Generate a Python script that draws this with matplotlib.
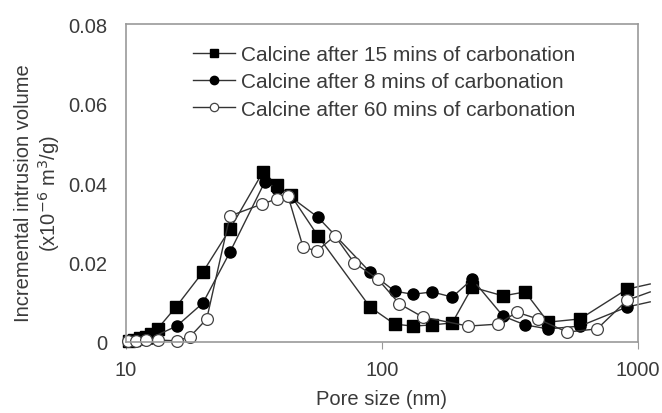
import numpy as np
import matplotlib.pyplot as plt

plt.rcParams['font.family'] = ['Liberation Sans', 'DejaVu Sans']

# pore size (nm) and incremental intrusion volume (x1e-6 m3/g)
pore_15 = [10.3, 10.8, 11.4, 12.0, 12.6, 13.3, 15.7, 20.0, 25.5, 34.3, 39.0, 44.0,
           56.2, 89.8, 112, 132, 157, 188, 225, 297, 362, 445, 593, 905, 1114]
vol_15 = [0.0003, 0.0006, 0.0009, 0.0013, 0.0020, 0.0033, 0.0088, 0.0176, 0.0284,
          0.0428, 0.0395, 0.0370, 0.0267, 0.0088, 0.0045, 0.0040, 0.0043, 0.0048,
          0.0138, 0.0116, 0.0126, 0.0050, 0.0058, 0.0133, 0.0146]

pore_8 = [10.3, 11.0, 11.7, 12.5, 15.8, 20.0, 25.5, 34.9, 39.0, 44.0, 56.2, 89.8,
          112, 132, 157, 188, 225, 297, 362, 445, 593, 905, 1114]
vol_8 = [0.0003, 0.0005, 0.0008, 0.0010, 0.0040, 0.0098, 0.0226, 0.0403, 0.0385,
         0.0365, 0.0314, 0.0176, 0.0128, 0.0120, 0.0126, 0.0113, 0.0158, 0.0065,
         0.0043, 0.0033, 0.0040, 0.0088, 0.0101]

pore_60 = [10.2, 11.0, 12.0, 13.3, 15.8, 17.8, 20.7, 25.5, 34.0, 38.9, 43.0, 49.2,
           55.7, 65.5, 77.7, 96.4, 117, 144, 217, 284, 336, 406, 528, 692, 905, 1114]
vol_60 = [0.0002, 0.0003, 0.0004, 0.0005, 0.0003, 0.0013, 0.0058, 0.0317, 0.0347,
          0.0360, 0.0367, 0.0239, 0.0229, 0.0267, 0.0200, 0.0158, 0.0096, 0.0063,
          0.0040, 0.0045, 0.0075, 0.0058, 0.0025, 0.0033, 0.0105, 0.0126]

labels = ['Calcine after 15 mins of carbonation',
          'Calcine after 8 mins of carbonation',
          'Calcine after 60 mins of carbonation']

text_col = '#3a3a3a'

fig = plt.figure(figsize=(6.62, 4.14), dpi=100)
ax = fig.add_axes([0.190, 0.1715, 0.774, 0.7681])

# last point of each series sits past 1000 nm: line only, no marker
line_kw = dict(color='#333333', lw=1.0, clip_on=False, markevery=slice(0, -1))
ax.plot(pore_15, vol_15, marker='s', ms=9, mfc='black', mec='black',
        label=labels[0], **line_kw)
ax.plot(pore_8, vol_8, marker='o', ms=8, mfc='black', mec='black',
        label=labels[1], **line_kw)
ax.plot(pore_60, vol_60, marker='o', ms=8.5, mfc='white', mec='#444444', mew=0.9,
        label=labels[2], **line_kw)

ax.set_xscale('log')
ax.set_xlim(10, 1000)
ax.set_ylim(0, 0.08)
ax.set_xticks([10, 100, 1000])
ax.set_xticklabels(['10', '100', '1000'])
ax.set_yticks([0, 0.02, 0.04, 0.06, 0.08])
ax.set_yticklabels(['0', '0.02', '0.04', '0.06', '0.08'])
ax.minorticks_off()

for s in ax.spines.values():
    s.set_color('#999999')
    s.set_linewidth(1.2)
ax.tick_params(axis='x', direction='out', length=5, color='#999999',
               labelsize=14.5, labelcolor=text_col, pad=8)
ax.tick_params(axis='y', length=0, labelsize=14.5, labelcolor=text_col, pad=13)

ax.set_xlabel('Pore size (nm)', fontsize=14.5, color=text_col, labelpad=7)
ax.set_ylabel('Incremental intrusion volume\n(x10$^{-6}$ m$^{3}$/g)',
              fontsize=14.5, color=text_col, linespacing=1.15)
ax.yaxis.set_label_coords(-0.125, 0.47)

leg = ax.legend(loc='upper left', bbox_to_anchor=(0.115, 0.96), frameon=False,
                fontsize=15, handlelength=2.0, handletextpad=0.3,
                labelspacing=0.4, borderaxespad=0)
for t in leg.get_texts():
    t.set_color(text_col)
for h in leg.legend_handles:
    h.set_markersize(6)

fig.savefig('out.png', dpi=100)
